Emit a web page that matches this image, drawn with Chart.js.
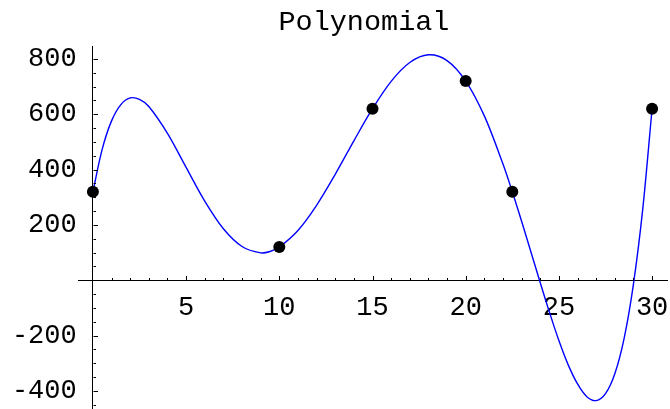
<!DOCTYPE html>
<html>
<head>
<meta charset="utf-8">
<script src="https://cdn.jsdelivr.net/npm/chart.js@4"></script>
<style>
html, body { margin: 0; padding: 0; background: #fff; }
#wrap { width: 670px; height: 409px; }
</style>
</head>
<body>
<div id="wrap"><canvas id="plot"></canvas></div>
<script>
// interpolating curve, values
const curveX = [0, 0.5, 1, 1.5, 2, 2.5, 3, 4, 5, 6, 7, 8, 9, 9.5, 10, 11, 12, 13, 14, 15, 16, 17, 18, 19, 20,
                21, 22, 22.5, 23, 24, 24.5, 25, 25.5, 26, 26.5, 27, 27.5, 28, 28.5, 29, 29.5, 30];
const curveY = [320, 474, 576, 635, 659, 654, 628, 531, 408, 286, 186, 122, 99, 104, 120, 180, 271, 383, 504, 620, 719, 787, 815, 794, 720,
                594, 420, 320, 213, -9, -117, -218, -306, -375, -421, -435, -410, -338, -210, -14, 258, 620];
// the data points
const knotX = [0, 10, 15, 20, 22.5, 30];
const knotY = [320, 120, 620, 720, 320, 620];
// labelled ticks
const xTickValues = [5, 10, 15, 20, 25, 30];
const yTickValues = [-400, -200, 200, 400, 600, 800];

Chart.defaults.font.family = "'Liberation Mono', 'Courier New', monospace";
Chart.defaults.color = "#000";

// short inward tick marks like Mathematica draws them
const tickMarks = {
    id: "tickMarks",
    afterDraw(chart) {
        const { ctx, scales: { x, y } } = chart;
        const x0 = Math.round(x.getPixelForValue(0)) + 0.5;
        const y0 = Math.round(y.getPixelForValue(0)) + 0.5;
        ctx.save();
        ctx.strokeStyle = "#000";
        ctx.lineWidth = 1;
        ctx.beginPath();
        for (let v = 1; v <= 30; v++) {
            const px = Math.round(x.getPixelForValue(v)) + 0.5;
            const len = v % 5 === 0 ? 4.5 : 2.5;
            ctx.moveTo(px, y0);
            ctx.lineTo(px, y0 - len);
        }
        for (let v = -450; v <= 800; v += 50) {
            if (v === 0) continue;
            const py = Math.round(y.getPixelForValue(v)) + 0.5;
            const len = v % 200 === 0 ? 4.5 : 2.5;
            ctx.moveTo(x0, py);
            ctx.lineTo(x0 + len, py);
        }
        ctx.stroke();
        ctx.restore();
    }
};

const ctx = document.getElementById("plot").getContext("2d");
new Chart(ctx, {
    type: "line",
    data: {
        datasets: [
            {
                label: "points",
                data: knotX.map((v, i) => ({ x: v, y: knotY[i] })),
                showLine: false,
                pointRadius: 6,
                pointBackgroundColor: "#000",
                pointBorderWidth: 0,
                clip: false
            },
            {
                label: "polynomial",
                data: curveX.map((v, i) => ({ x: v, y: curveY[i] })),
                borderColor: "#0000ff",
                borderWidth: 1.4,
                pointRadius: 0,
                tension: 0.33,
                fill: false,
                clip: false
            }
        ]
    },
    options: {
        responsive: true,
        maintainAspectRatio: false,
        animation: false,
        layout: { autoPadding: false, padding: { left: 78, right: 3, top: 0, bottom: 0 } },
        plugins: {
            legend: { display: false },
            tooltip: { enabled: false },
            title: {
                display: true,
                // trailing space nudges the centred title a little to the left
                text: "Polynomial ",
                fullSize: false,
                color: "#000",
                font: { size: 28.5, weight: "normal" },
                padding: { top: 5, bottom: 7 }
            }
        },
        scales: {
            x: {
                type: "linear",
                position: { y: 0 },
                min: -0.8,
                max: 30.8,
                afterBuildTicks: s => { s.ticks = xTickValues.map(v => ({ value: v })); },
                grid: { display: true, drawOnChartArea: false, drawTicks: false },
                border: { display: true, color: "#000", width: 1 },
                // tall line box pushes the labels below the axis without adding side padding
                ticks: { padding: 0, font: { size: 27, lineHeight: "56px" }, color: "#000", maxRotation: 0, autoSkip: false,
                         callback: v => String(v) }
            },
            y: {
                type: "linear",
                position: { x: 0 },
                min: -465,
                max: 846,
                afterBuildTicks: s => { s.ticks = yTickValues.map(v => ({ value: v })); },
                grid: { display: true, drawOnChartArea: false, drawTicks: false },
                border: { display: true, color: "#000", width: 1 },
                // labels sit right against the axis here, so a trailing space keeps the gap
                ticks: { padding: 0, font: { size: 27, lineHeight: 0.01 }, color: "#000", autoSkip: false,
                         callback: v => String(v) + " " }
            }
        }
    },
    plugins: [tickMarks]
});
</script>
</body>
</html>
